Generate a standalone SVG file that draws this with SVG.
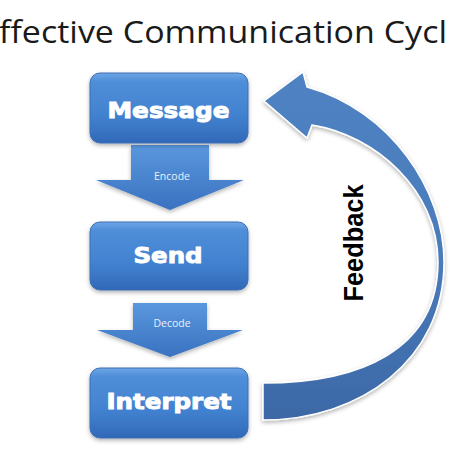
<svg xmlns="http://www.w3.org/2000/svg" width="450" height="450" viewBox="0 0 450 450">
<defs>
<linearGradient id="boxG" x1="0" y1="0" x2="0" y2="1">
<stop offset="0" stop-color="#6ea6e6"/>
<stop offset="0.12" stop-color="#4f8ed8"/>
<stop offset="0.6" stop-color="#4282d0"/>
<stop offset="1" stop-color="#3169b8"/>
</linearGradient>
<linearGradient id="downG" x1="0" y1="0" x2="0" y2="1">
<stop offset="0" stop-color="#5a97de"/>
<stop offset="1" stop-color="#3a72c0"/>
</linearGradient>
<linearGradient id="fbG" x1="0" y1="0" x2="0" y2="1">
<stop offset="0" stop-color="#4f82c2"/>
<stop offset="0.5" stop-color="#4a7cbb"/>
<stop offset="1" stop-color="#3c68a6"/>
</linearGradient>
<filter id="sh" x="-10%" y="-10%" width="125%" height="130%">
<feDropShadow dx="0" dy="2" stdDeviation="2" flood-color="#000" flood-opacity="0.3"/>
</filter>
<style>
.box{fill:url(#boxG);stroke:#3c6fb3;stroke-width:1;filter:url(#sh)}
.lbl{font-family:"DejaVu Sans",sans-serif;font-weight:bold;font-size:21px;fill:#fff;stroke:#fff;stroke-width:0.9;text-anchor:middle}
.down{fill:url(#downG);filter:url(#sh)}
.small{font-family:"Open Sans",sans-serif;font-size:10.5px;fill:#e8f0fa;text-anchor:middle}
</style>
</defs>
<rect width="450" height="450" fill="#fff"/>
<text x="-1" y="43" font-family="Open Sans, sans-serif" font-size="31" fill="#1a1a1a" textLength="448" lengthAdjust="spacingAndGlyphs">ffective Communication Cycl</text>
<g id="connectors">
<g id="encode">
<polygon class="down" points="131,145 209,145 209,180 244,180 170,210 96,180 131,180"/>
<text class="small" x="172" y="180">Encode</text>
</g>
<g id="decode">
<polygon class="down" points="133,303 207,303 207,330 243,330 170,357 97,330 133,330"/>
<text class="small" x="172" y="327">Decode</text>
</g>
<g id="feedback">
<path d="M263,383 C360,383 438,350 438,262 C438,190 375,135 312,125 L307,138 L264,101 L303,72 L307,87 C390,110 444,190 444,262 C444,360 360,420 263,420 Z" fill="url(#fbG)" stroke="#fff" stroke-width="1.5" filter="url(#sh)"/>
<text transform="translate(363,243) rotate(-90)" x="0" y="0" font-family="Liberation Sans, sans-serif" font-weight="bold" font-size="28" fill="#000" text-anchor="middle" textLength="117" lengthAdjust="spacingAndGlyphs">Feedback</text>
</g>
</g>
<g id="message">
<rect class="box" x="90" y="73" width="158" height="70" rx="10"/>
<text class="lbl" x="168.5" y="118" textLength="122" lengthAdjust="spacingAndGlyphs">Message</text>
</g>
<g id="send">
<rect class="box" x="90" y="222" width="158" height="68" rx="10"/>
<text class="lbl" x="168" y="263" textLength="69" lengthAdjust="spacingAndGlyphs">Send</text>
</g>
<g id="interpret">
<rect class="box" x="90" y="368" width="158" height="70" rx="10"/>
<text class="lbl" x="169" y="409" textLength="125" lengthAdjust="spacingAndGlyphs">Interpret</text>
</g>
</svg>
